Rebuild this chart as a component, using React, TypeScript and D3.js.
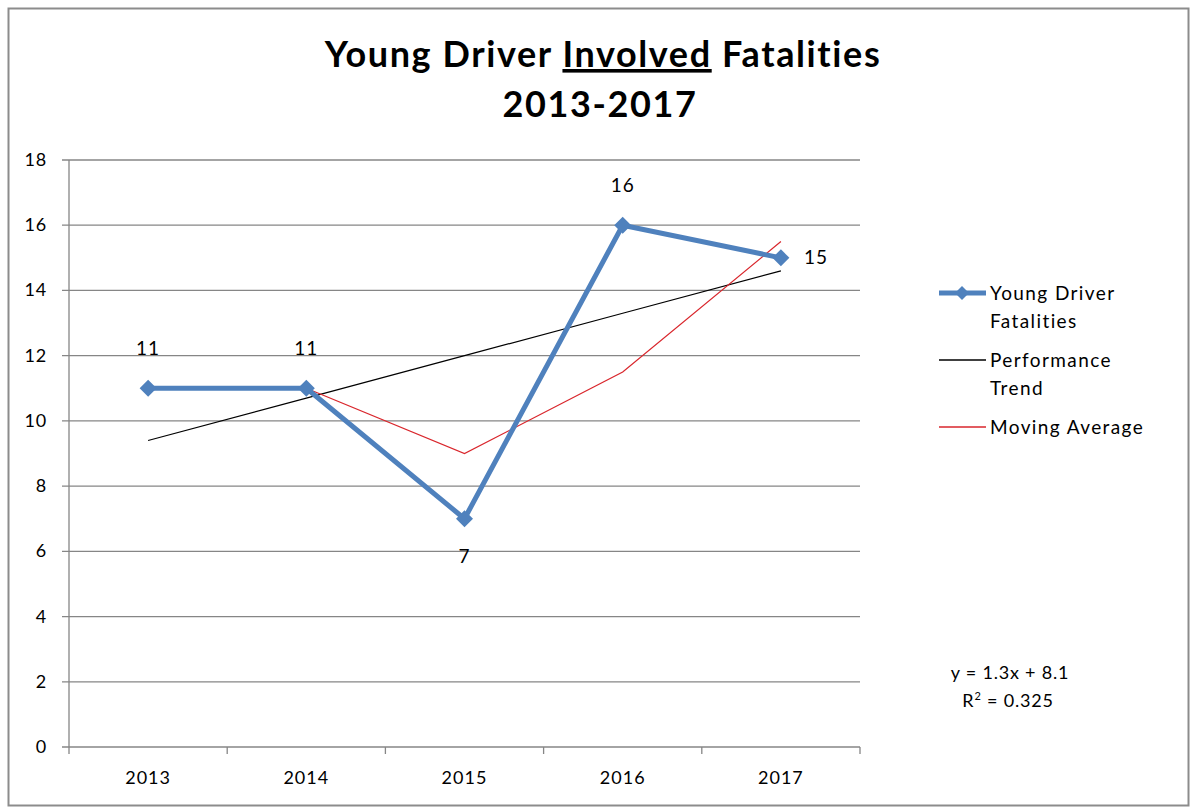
import React from 'react';
import * as d3 from 'd3';

// chart values
const years = ['2013', '2014', '2015', '2016', '2017'];
const fatalities = [11, 11, 7, 16, 15];
const trendSlope = 1.3;
const trendIntercept = 8.1;
const yTicks = [0, 2, 4, 6, 8, 10, 12, 14, 16, 18];
const legendItems = ['Young Driver|Fatalities', 'Performance|Trend', 'Moving Average'];

const W = 1192;
const H = 807;
const margin = { left: 69, right: 860, top: 160, bottom: 747 };
const font = 'Lato, "Open Sans", sans-serif';

const App = () => {
  const x = d3.scaleBand<string>().domain(years).range([margin.left, margin.right]);
  const y = d3.scaleLinear().domain([0, 18]).range([margin.bottom, margin.top]);
  const cx = (d: string) => (x(d) as number) + x.bandwidth() / 2;

  // linear trend over 1..n and 2-period moving average
  const trend = years.map((yr, i) => ({ yr, v: trendSlope * (i + 1) + trendIntercept }));
  const movAvg = years.slice(1).map((yr, i) => ({ yr, v: (fatalities[i] + fatalities[i + 1]) / 2 }));

  const line = d3.line<{ yr: string; v: number }>().x(d => cx(d.yr)).y(d => y(d.v));
  const main = years.map((yr, i) => ({ yr, v: fatalities[i] }));

  const diamond = (px: number, py: number, r = 8.5) =>
    `M${px},${py - r}L${px + r},${py}L${px},${py + r}L${px - r},${py}Z`;

  // label placement: above except 2015 (below) and 2017 (right)
  const labelPos = (i: number) => {
    const px = cx(years[i]);
    const py = y(fatalities[i]);
    if (i === 2) return { x: px, y: py + 44, anchor: 'middle' };
    if (i === 4) return { x: px + 23, y: py + 6, anchor: 'start' };
    return { x: px, y: py - 33, anchor: 'middle' };
  };

  const legendY = [293, 360, 427];
  const legendColors = ['#4F81BD', '#000000', '#D9262C'];

  return (
    <svg width={W} height={H} style={{ display: 'block', position: 'absolute', left: 0, top: 0 }}>
      <rect x={0} y={0} width={W} height={H} fill="#fff" />
      <rect x={8.5} y={8.5} width={1180} height={797} fill="none" stroke="#8c8c8c" strokeWidth={2} />

      <text x={603} y={67} textAnchor="middle" fontFamily={font} fontWeight={700} fontSize={36} letterSpacing={1.6} fill="#000">
        Young Driver <tspan textDecoration="underline" style={{ textDecoration: 'underline' }}>Involved</tspan> Fatalities
      </text>
      <text x={600} y={117} textAnchor="middle" fontFamily={font} fontWeight={700} fontSize={36} letterSpacing={1.6} fill="#000">
        2013-2017
      </text>

      {yTicks.map(t => (
        <g key={t}>
          <line x1={margin.left - 7} x2={margin.right} y1={y(t)} y2={y(t)} stroke="#868686" strokeWidth={1.3} />
          <text x={47} y={y(t) + 6} textAnchor="end" fontFamily={font} fontSize={18} letterSpacing={0.8} fill="#000">{t}</text>
        </g>
      ))}
      <line x1={margin.left} x2={margin.left} y1={margin.top} y2={margin.bottom} stroke="#868686" strokeWidth={1.3} />
      {[...years.map(d => x(d) as number), margin.right].map((tx, i) => (
        <line key={i} x1={tx} x2={tx} y1={margin.bottom} y2={margin.bottom + 7} stroke="#868686" strokeWidth={1.3} />
      ))}
      {years.map(d => (
        <text key={d} x={cx(d)} y={784} textAnchor="middle" fontFamily={font} fontSize={18} letterSpacing={1} fill="#000">{d}</text>
      ))}

      <path d={line(trend) as string} fill="none" stroke="#000" strokeWidth={1.2} />
      <path d={line(movAvg) as string} fill="none" stroke="#D9262C" strokeWidth={1.2} />
      <path d={line(main) as string} fill="none" stroke="#4F81BD" strokeWidth={5} strokeLinejoin="round" />
      {main.map(d => (
        <path key={d.yr} d={diamond(cx(d.yr), y(d.v))} fill="#4F81BD" />
      ))}
      {fatalities.map((v, i) => {
        const p = labelPos(i);
        return (
          <text key={i} x={p.x} y={p.y} textAnchor={p.anchor as any} fontFamily={font} fontSize={19} letterSpacing={1} fill="#000">{v}</text>
        );
      })}

      {legendItems.map((item, i) => {
        const ly = legendY[i];
        const parts = item.split('|');
        return (
          <g key={item}>
            <line x1={939} x2={986} y1={ly} y2={ly} stroke={legendColors[i]} strokeWidth={i === 0 ? 5 : 1.3} />
            {i === 0 && <path d={diamond(962, ly, 7)} fill="#4F81BD" />}
            {parts.map((s, k) => (
              <text key={k} x={990} y={ly + 7 + k * 28} fontFamily={font} fontSize={19} letterSpacing={1.4} fill="#000">{s}</text>
            ))}
          </g>
        );
      })}

      <text x={1010} y={679} textAnchor="middle" fontFamily={font} fontSize={18} letterSpacing={0.8} fill="#000">y = 1.3x + 8.1</text>
      <text x={1008} y={707} textAnchor="middle" fontFamily={font} fontSize={18} letterSpacing={0.8} fill="#000">
        R<tspan dy={-7} fontSize={11}>2</tspan><tspan dy={7}> = 0.325</tspan>
      </text>
    </svg>
  );
};

export default App;
